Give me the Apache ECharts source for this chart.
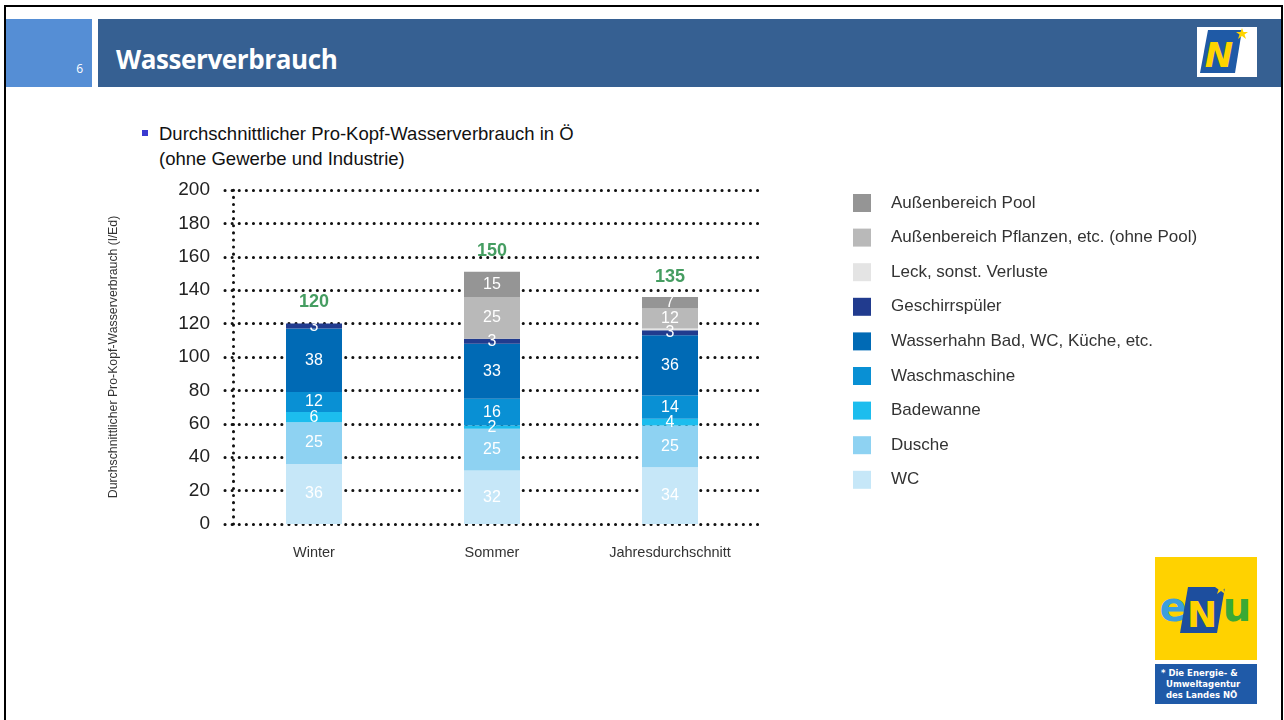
<!DOCTYPE html>
<html>
<head>
<meta charset="utf-8">
<script src="https://cdn.jsdelivr.net/npm/echarts@6/dist/echarts.min.js"></script>
<style>
  html, body { margin: 0; padding: 0; background: #fff; }
  body { width: 1284px; height: 720px; position: relative; overflow: hidden; font-family: 'Liberation Sans', Arial, sans-serif; }
  .frame { position: absolute; left: 4px; top: 5px; width: 1275px; height: 720px; border: 2px solid #000; border-bottom: none; }
  .num { position: absolute; left: 6px; top: 19px; width: 86px; height: 68px; background: #558ed5; }
  .num span { position: absolute; right: 9px; top: 41px; color: #fff; font: 12px 'Open Sans', sans-serif; }
  .bar { position: absolute; left: 98px; top: 19px; width: 1183px; height: 68px; background: #366092; }
  .bar h1 { position: absolute; left: 18px; top: 24px; margin: 0; color: #fff; font: bold 26px 'Open Sans', sans-serif; line-height: 32px; letter-spacing: -0.4px; }
  .nlogo { position: absolute; left: 1197px; top: 27px; }
  .bullet { position: absolute; left: 159px; top: 121px; font-size: 18.5px; line-height: 25px; color: #111; }
  .bullet i { position: absolute; left: -17px; top: 9px; width: 6px; height: 6px; background: #3a3ad0; }
  .enu { position: absolute; left: 1155px; top: 557px; }
  #chart { position: absolute; left: 0; top: 0; width: 1284px; height: 720px; }
</style>
</head>
<body>
<div class="frame"></div>
<div class="num"><span>6</span></div>
<div class="bar"><h1>Wasserverbrauch</h1></div>
<svg class="nlogo" width="60" height="50" viewBox="0 0 60 50">
  <rect width="60" height="50" fill="#fff"/>
  <polygon points="11,3 45,3 38,46 3,46" fill="#1f5aa6"/>
  <text x="22" y="40" text-anchor="middle" font-family="'DejaVu Sans'" font-weight="bold" font-style="italic" font-size="34" fill="#ffd400">N</text>
  <polygon points="45,1 46.5,5 51,5 47.5,7.5 49,12 45,9 41,12 42.5,7.5 39,5 43.5,5" fill="#ffd400"/>
</svg>
<div class="bullet"><i></i>Durchschnittlicher Pro-Kopf-Wasserverbrauch in Ö<br>(ohne Gewerbe und Industrie)</div>
<svg class="enu" width="102" height="147" viewBox="0 0 102 147">
  <rect width="102" height="103" fill="#ffd200"/>
  <text x="18" y="64" text-anchor="middle" font-family="'DejaVu Sans'" font-weight="bold" font-size="40" fill="#3c9fdc">e</text>
  <polygon points="33,30 70,30 62,76 25,76" fill="#1d4e9e"/>
  <text x="47" y="70" text-anchor="middle" font-family="'DejaVu Sans'" font-weight="bold" font-size="36" fill="#ffd200">N</text>
  <polygon points="66,26 67.5,30 72,30 68.5,32.5 70,37 66,34 62,37 63.5,32.5 60,30 64.5,30" fill="#ffd200"/>
  <text x="82" y="64" text-anchor="middle" font-family="'DejaVu Sans'" font-weight="bold" font-size="40" fill="#3aa935">u</text>
  <rect y="107" width="102" height="40" fill="#1f5aa8"/>
  <text x="6" y="119" font-family="'DejaVu Sans'" font-weight="bold" font-size="8.5" fill="#fff">* Die Energie- &amp;</text>
  <text x="11" y="130" font-family="'DejaVu Sans'" font-weight="bold" font-size="8.5" fill="#fff">Umweltagentur</text>
  <text x="11" y="141" font-family="'DejaVu Sans'" font-weight="bold" font-size="8.5" fill="#fff">des Landes NÖ</text>
</svg>
<div id="chart"></div>
<script>
// Kategorien und Werte (l/Ed)
const categories = ['Winter', 'Sommer', 'Jahresdurchschnitt'];
const wc = [36, 32, 34];
const dusche = [25, 25, 25];
const badewanne = [6, 2, 4];
const waschmaschine = [12, 16, 14];
const wasserhahn = [38, 33, 36];
const geschirr = [3, 3, 3];
const leck = [0, 0, 1];
const pflanzen = [0, 25, 12];
const pool = [0, 15, 7];
const totals = [120, 150, 135];
const yMin = 0, yMax = 200, yStep = 20;

const parts = [
  { name: 'WC', data: wc, color: '#c6e7f8' },
  { name: 'Dusche', data: dusche, color: '#8ed2f2' },
  { name: 'Badewanne', data: badewanne, color: '#1cbdee' },
  { name: 'Waschmaschine', data: waschmaschine, color: '#0990d4' },
  { name: 'Wasserhahn Bad, WC, Küche, etc.', data: wasserhahn, color: '#006ab5' },
  { name: 'Geschirrspüler', data: geschirr, color: '#213b8e' },
  { name: 'Leck, sonst. Verluste', data: leck, color: '#e4e4e4', noLabel: true },
  { name: 'Außenbereich Pflanzen, etc. (ohne Pool)', data: pflanzen, color: '#b9b9b9' },
  { name: 'Außenbereich Pool', data: pool, color: '#959595' }
];

const dots = { color: '#111', width: 3, type: [0.1, 7], cap: 'round' };
const chart = echarts.init(document.getElementById('chart'));

const series = parts.map(p => ({
  name: p.name,
  type: 'bar',
  stack: 'sum',
  barWidth: 56,
  zlevel: 1,
  z: 10,
  itemStyle: { color: p.color },
  label: {
    show: !p.noLabel,
    position: 'inside',
    color: '#fff',
    fontSize: 16,
    fontFamily: 'Liberation Sans, Arial',
    formatter: d => d.value > 0 ? d.value : ''
  },
  data: p.data
}));

series.push({
  name: 'Summe',
  type: 'scatter',
  symbolSize: 0,
  silent: true,
  zlevel: 1,
  z: 11,
  label: {
    show: true,
    position: 'top',
    distance: 13,
    color: '#16843a',
    fontSize: 18,
    fontWeight: 'bold',
    fontFamily: 'Liberation Sans, Arial'
  },
  data: totals
});

chart.setOption({
  animation: false,
  textStyle: { fontFamily: 'Liberation Sans, Arial' },
  grid: { left: 225, right: 525, top: 190, bottom: 196 },
  legend: {
    orient: 'vertical',
    left: 848,
    top: 189,
    icon: 'rect',
    itemWidth: 18,
    itemHeight: 18,
    itemGap: 16.6,
    textStyle: { fontSize: 17, color: '#333', padding: [0, 0, 0, 15] },
    data: parts.map(p => p.name).reverse()
  },
  xAxis: {
    type: 'category',
    data: categories,
    axisLine: { show: false },
    axisTick: { show: false },
    axisLabel: { color: '#333', fontSize: 14.5, margin: 21 }
  },
  yAxis: {
    type: 'value',
    min: yMin,
    max: yMax,
    interval: yStep,
    offset: -8,
    name: 'Durchschnittlicher Pro-Kopf-Wasserverbrauch (l/Ed)',
    nameLocation: 'middle',
    nameGap: 113,
    nameTextStyle: { fontSize: 12.3, color: '#333' },
    axisLine: { show: true, lineStyle: dots },
    axisTick: { show: false },
    axisLabel: { color: '#222', fontSize: 19, margin: 23 },
    splitLine: { show: true, lineStyle: dots }
  },
  series: series
});
</script>
</body>
</html>
